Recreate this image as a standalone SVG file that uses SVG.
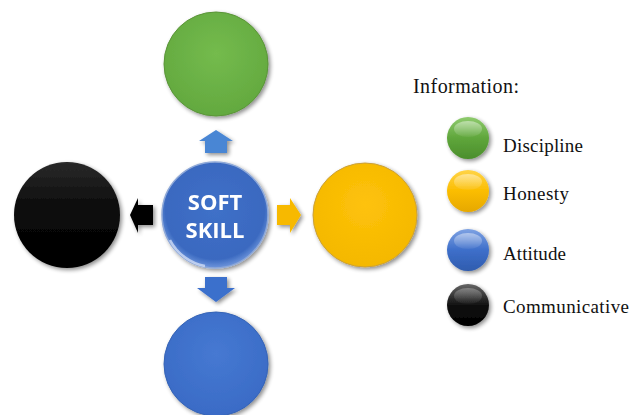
<svg xmlns="http://www.w3.org/2000/svg" width="629" height="415" viewBox="0 0 629 415">
<style>
.legend{font-family:"Liberation Serif","Times New Roman",serif;fill:#111;}
.center{font-family:"Open Sans","Liberation Sans",sans-serif;font-weight:bold;fill:#fff;font-size:22px;}
</style>
<defs>
<filter id="sh" x="-20%" y="-20%" width="150%" height="150%">
<feGaussianBlur in="SourceAlpha" stdDeviation="2"/>
<feOffset dx="1.5" dy="2" result="b"/>
<feComponentTransfer><feFuncA type="linear" slope="0.45"/></feComponentTransfer>
<feMerge><feMergeNode/><feMergeNode in="SourceGraphic"/></feMerge>
</filter>
<radialGradient id="gGreen" cx="50%" cy="40%" r="60%"><stop offset="0" stop-color="#74bb4d"/><stop offset="1" stop-color="#63a93f"/></radialGradient>
<radialGradient id="gYellow" cx="50%" cy="40%" r="60%"><stop offset="0" stop-color="#fec20a"/><stop offset="1" stop-color="#f4b800"/></radialGradient>
<radialGradient id="gBlue" cx="50%" cy="40%" r="60%"><stop offset="0" stop-color="#4679d2"/><stop offset="1" stop-color="#3a6bc6"/></radialGradient>
<linearGradient id="gBlack" x1="0" y1="0" x2="0" y2="1"><stop offset="0" stop-color="#2a2a2a"/><stop offset="0.45" stop-color="#0a0a0a"/><stop offset="1" stop-color="#000"/></linearGradient>
<radialGradient id="gCenter" cx="50%" cy="45%" r="55%"><stop offset="0" stop-color="#3f70c8"/><stop offset="0.85" stop-color="#3a69c0"/><stop offset="1" stop-color="#6f96dc"/></radialGradient>
<linearGradient id="gloss" x1="0" y1="0" x2="0" y2="1"><stop offset="0" stop-color="#fff" stop-opacity="0.45"/><stop offset="1" stop-color="#fff" stop-opacity="0.05"/></linearGradient>
<linearGradient id="lGreen" x1="0" y1="0" x2="0" y2="1"><stop offset="0" stop-color="#8fcb6e"/><stop offset="0.5" stop-color="#5fa63b"/><stop offset="1" stop-color="#4b8e2c"/></linearGradient>
<linearGradient id="lYellow" x1="0" y1="0" x2="0" y2="1"><stop offset="0" stop-color="#ffd447"/><stop offset="0.5" stop-color="#fbbd00"/><stop offset="1" stop-color="#e6a800"/></linearGradient>
<linearGradient id="lBlue" x1="0" y1="0" x2="0" y2="1"><stop offset="0" stop-color="#7ea2e3"/><stop offset="0.5" stop-color="#3e6fca"/><stop offset="1" stop-color="#2f5cae"/></linearGradient>
<linearGradient id="lBlack" x1="0" y1="0" x2="0" y2="1"><stop offset="0" stop-color="#666"/><stop offset="0.5" stop-color="#111"/><stop offset="1" stop-color="#000"/></linearGradient>
</defs>

<g id="discipline-node" filter="url(#sh)"><circle cx="216" cy="64" r="52" fill="url(#gGreen)" stroke="#5a9438" stroke-width="1"/></g>
<g id="honesty-node" filter="url(#sh)"><circle cx="365" cy="215" r="52" fill="url(#gYellow)" stroke="#c9a03a" stroke-width="1"/></g>
<g id="attitude-node" filter="url(#sh)"><circle cx="216" cy="364" r="52" fill="url(#gBlue)" stroke="#3563b5" stroke-width="1"/></g>
<g id="communicative-node" filter="url(#sh)"><circle cx="67" cy="215" r="53" fill="url(#gBlack)"/></g>

<g id="soft-skill-node" filter="url(#sh)">
<circle cx="215" cy="215" r="53" fill="url(#gCenter)" stroke="#8fa9d8" stroke-width="1.5"/>
<path d="M170,240 A50,50 0 0 0 205,266" fill="none" stroke="#cfdcf5" stroke-width="2.5" stroke-opacity="0.8"/>
<text class="center" x="215" y="210" text-anchor="middle">SOFT</text>
<text class="center" x="215" y="238" text-anchor="middle">SKILL</text>
</g>

<g id="connectors" filter="url(#sh)">
<path d="M216,130 L233,141 L227,141 L227,153 L205,153 L205,141 L199,141 Z" fill="#4a86d4"/>
<path d="M301,215 L290,198 L290,205 L277,205 L277,225 L290,225 L290,233 Z" fill="#f7b900"/>
<path d="M216,302 L235,288 L227,288 L227,277 L205,277 L205,288 L197,288 Z" fill="#3b6fcc"/>
<path d="M130,215 L138,198 L138,205 L153,205 L153,225 L138,225 L138,233 Z" fill="#000"/>
</g>

<g id="legend">
<text class="legend" x="413" y="93" font-size="20" textLength="106">Information:</text>
<g id="legend-discipline"><circle cx="468" cy="138" r="21" fill="url(#lGreen)" filter="url(#sh)"/><ellipse cx="468" cy="129" rx="14" ry="8" fill="url(#gloss)"/><text class="legend" x="503" y="152" font-size="19" textLength="80">Discipline</text></g>
<g id="legend-honesty"><circle cx="468" cy="191" r="21" fill="url(#lYellow)" filter="url(#sh)"/><ellipse cx="468" cy="182" rx="14" ry="8" fill="url(#gloss)"/><text class="legend" x="503" y="200" font-size="19" textLength="66">Honesty</text></g>
<g id="legend-attitude"><circle cx="468" cy="250" r="21" fill="url(#lBlue)" filter="url(#sh)"/><ellipse cx="468" cy="241" rx="14" ry="8" fill="url(#gloss)"/><text class="legend" x="503" y="260" font-size="19" textLength="63">Attitude</text></g>
<g id="legend-communicative"><circle cx="468" cy="305" r="21" fill="url(#lBlack)" filter="url(#sh)"/><ellipse cx="468" cy="296" rx="14" ry="8" fill="url(#gloss)" opacity="0.6"/><text class="legend" x="503" y="313" font-size="19" textLength="126">Communicative</text></g>
</g>
</svg>
